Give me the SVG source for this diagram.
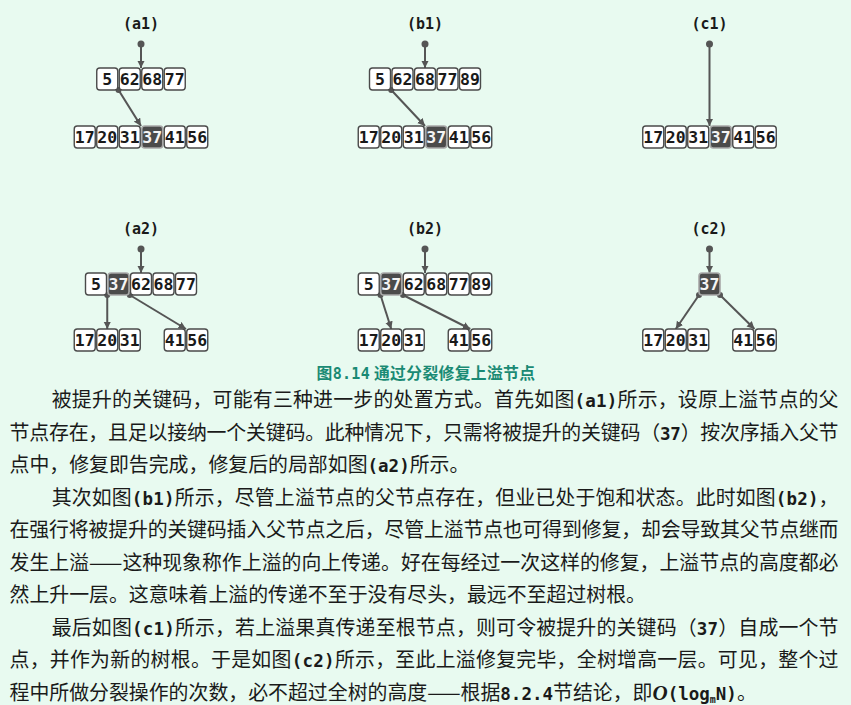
<svg xmlns="http://www.w3.org/2000/svg" width="851" height="705" viewBox="0 0 851 705">
<style>
.bg{fill:#e8faf0}
.cell{fill:#fff;stroke:#4a4a4a;stroke-width:1.4}
.hot{fill:#4b4b4b;stroke:#a8a8a8;stroke-width:1.6}
.num{font-family:"DejaVu Sans Mono",monospace;font-size:16.5px;font-weight:bold;fill:#1a1a1a;text-anchor:middle}
.hotnum{fill:#f4f4f4}
.lbl{font-family:"DejaVu Sans Mono",monospace;font-size:15px;font-weight:bold;fill:#1a1a1a;text-anchor:middle}
.edge{stroke:#555;stroke-width:2;fill:none;marker-end:url(#ah)}
.dot{fill:#555}
.cap{font-family:"Noto Sans CJK SC",sans-serif;font-size:15.8px;font-weight:bold;fill:#1a8a74}
.capm{font-family:"DejaVu Sans Mono",monospace;font-size:15px;font-weight:bold}
.body{font-family:"Noto Sans CJK SC",sans-serif;font-size:19.9px;fill:#1a1a1a}
.m{font-family:"DejaVu Sans Mono","Noto Sans CJK SC",monospace;font-weight:bold;font-size:17.5px}
.it{font-family:"Liberation Serif",serif;font-style:italic;font-weight:bold;font-size:21px}
.sub{font-family:"DejaVu Sans Mono",monospace;font-weight:bold;font-size:10px}
</style>
<defs>
<marker id="ah" markerUnits="userSpaceOnUse" markerWidth="8" markerHeight="8" refX="7.5" refY="3.75" orient="auto">
<path d="M0,0 L7.5,3.75 L0,7.5 z" fill="#555"/>
</marker>
</defs>
<rect class="bg" x="0" y="0" width="851" height="705"/>

<g id="labels">
<text class="lbl" x="141" y="28.5">(a1)</text>
<text class="lbl" x="425" y="28.5">(b1)</text>
<text class="lbl" x="709.5" y="28.5">(c1)</text>
<text class="lbl" x="141" y="233.5">(a2)</text>
<text class="lbl" x="425" y="233.5">(b2)</text>
<text class="lbl" x="709.5" y="233.5">(c2)</text>
</g>

<g id="connectors">
<line class="edge" x1="141" y1="44" x2="141" y2="68"/>
<line class="edge" x1="118.5" y1="90" x2="141" y2="126"/>
<line class="edge" x1="425" y1="44" x2="425" y2="68"/>
<line class="edge" x1="391.25" y1="90" x2="425" y2="126"/>
<line class="edge" x1="709.5" y1="44" x2="709.5" y2="126"/>
<line class="edge" x1="141" y1="249" x2="141" y2="273"/>
<line class="edge" x1="107.25" y1="295" x2="107.25" y2="329"/>
<line class="edge" x1="129.75" y1="295" x2="186" y2="329"/>
<line class="edge" x1="425" y1="249" x2="425" y2="273"/>
<line class="edge" x1="380.5" y1="295" x2="391.25" y2="329"/>
<line class="edge" x1="403" y1="295" x2="470.25" y2="329"/>
<line class="edge" x1="709.5" y1="249" x2="709.5" y2="273"/>
<line class="edge" x1="699" y1="295" x2="675.75" y2="329"/>
<line class="edge" x1="720" y1="295" x2="754.5" y2="329"/>
<circle class="dot" cx="141" cy="44" r="3.5"/>
<circle class="dot" cx="425" cy="44" r="3.5"/>
<circle class="dot" cx="709.5" cy="44" r="3.5"/>
<circle class="dot" cx="141" cy="249" r="3.5"/>
<circle class="dot" cx="425" cy="249" r="3.5"/>
<circle class="dot" cx="709.5" cy="249" r="3.5"/>
<circle class="dot" cx="118.5" cy="90" r="3"/>
<circle class="dot" cx="391.25" cy="90" r="3"/>
<circle class="dot" cx="107.25" cy="295" r="3"/>
<circle class="dot" cx="129.75" cy="295" r="3"/>
<circle class="dot" cx="380.5" cy="295" r="3"/>
<circle class="dot" cx="403" cy="295" r="3"/>
<circle class="dot" cx="699" cy="295" r="3"/>
<circle class="dot" cx="720" cy="295" r="3"/>
</g>

<g id="a1-parent">
<rect class="cell" x="96.75" y="68" width="21" height="22" rx="3"/><text class="num" x="107.25" y="84.8">5</text>
<rect class="cell" x="119.25" y="68" width="21" height="22" rx="3"/><text class="num" x="129.75" y="84.8">62</text>
<rect class="cell" x="141.75" y="68" width="21" height="22" rx="3"/><text class="num" x="152.25" y="84.8">68</text>
<rect class="cell" x="164.25" y="68" width="21" height="22" rx="3"/><text class="num" x="174.75" y="84.8">77</text>
</g>
<g id="a1-child">
<rect class="cell" x="74.25" y="126" width="21" height="22" rx="3"/><text class="num" x="84.75" y="142.8">17</text>
<rect class="cell" x="96.75" y="126" width="21" height="22" rx="3"/><text class="num" x="107.25" y="142.8">20</text>
<rect class="cell" x="119.25" y="126" width="21" height="22" rx="3"/><text class="num" x="129.75" y="142.8">31</text>
<rect class="hot" x="141.75" y="126" width="21" height="22" rx="3"/><text class="num hotnum" x="152.25" y="142.8">37</text>
<rect class="cell" x="164.25" y="126" width="21" height="22" rx="3"/><text class="num" x="174.75" y="142.8">41</text>
<rect class="cell" x="186.75" y="126" width="21" height="22" rx="3"/><text class="num" x="197.25" y="142.8">56</text>
</g>

<g id="b1-parent">
<rect class="cell" x="369.5" y="68" width="21" height="22" rx="3"/><text class="num" x="380" y="84.8">5</text>
<rect class="cell" x="392" y="68" width="21" height="22" rx="3"/><text class="num" x="402.5" y="84.8">62</text>
<rect class="cell" x="414.5" y="68" width="21" height="22" rx="3"/><text class="num" x="425" y="84.8">68</text>
<rect class="cell" x="437" y="68" width="21" height="22" rx="3"/><text class="num" x="447.5" y="84.8">77</text>
<rect class="cell" x="459.5" y="68" width="21" height="22" rx="3"/><text class="num" x="470" y="84.8">89</text>
</g>
<g id="b1-child">
<rect class="cell" x="358.25" y="126" width="21" height="22" rx="3"/><text class="num" x="368.75" y="142.8">17</text>
<rect class="cell" x="380.75" y="126" width="21" height="22" rx="3"/><text class="num" x="391.25" y="142.8">20</text>
<rect class="cell" x="403.25" y="126" width="21" height="22" rx="3"/><text class="num" x="413.75" y="142.8">31</text>
<rect class="hot" x="425.75" y="126" width="21" height="22" rx="3"/><text class="num hotnum" x="436.25" y="142.8">37</text>
<rect class="cell" x="448.25" y="126" width="21" height="22" rx="3"/><text class="num" x="458.75" y="142.8">41</text>
<rect class="cell" x="470.75" y="126" width="21" height="22" rx="3"/><text class="num" x="481.25" y="142.8">56</text>
</g>

<g id="c1-child">
<rect class="cell" x="642.75" y="126" width="21" height="22" rx="3"/><text class="num" x="653.25" y="142.8">17</text>
<rect class="cell" x="665.25" y="126" width="21" height="22" rx="3"/><text class="num" x="675.75" y="142.8">20</text>
<rect class="cell" x="687.75" y="126" width="21" height="22" rx="3"/><text class="num" x="698.25" y="142.8">31</text>
<rect class="hot" x="710.25" y="126" width="21" height="22" rx="3"/><text class="num hotnum" x="720.75" y="142.8">37</text>
<rect class="cell" x="732.75" y="126" width="21" height="22" rx="3"/><text class="num" x="743.25" y="142.8">41</text>
<rect class="cell" x="755.25" y="126" width="21" height="22" rx="3"/><text class="num" x="765.75" y="142.8">56</text>
</g>

<g id="a2-parent">
<rect class="cell" x="85.5" y="273" width="21" height="22" rx="3"/><text class="num" x="96" y="289.8">5</text>
<rect class="hot" x="108" y="273" width="21" height="22" rx="3"/><text class="num hotnum" x="118.5" y="289.8">37</text>
<rect class="cell" x="130.5" y="273" width="21" height="22" rx="3"/><text class="num" x="141" y="289.8">62</text>
<rect class="cell" x="153" y="273" width="21" height="22" rx="3"/><text class="num" x="163.5" y="289.8">68</text>
<rect class="cell" x="175.5" y="273" width="21" height="22" rx="3"/><text class="num" x="186" y="289.8">77</text>
</g>
<g id="a2-left">
<rect class="cell" x="74.25" y="329" width="21" height="22" rx="3"/><text class="num" x="84.75" y="345.8">17</text>
<rect class="cell" x="96.75" y="329" width="21" height="22" rx="3"/><text class="num" x="107.25" y="345.8">20</text>
<rect class="cell" x="119.25" y="329" width="21" height="22" rx="3"/><text class="num" x="129.75" y="345.8">31</text>
</g>
<g id="a2-right">
<rect class="cell" x="164.25" y="329" width="21" height="22" rx="3"/><text class="num" x="174.75" y="345.8">41</text>
<rect class="cell" x="186.75" y="329" width="21" height="22" rx="3"/><text class="num" x="197.25" y="345.8">56</text>
</g>

<g id="b2-parent">
<rect class="cell" x="358.25" y="273" width="21" height="22" rx="3"/><text class="num" x="368.75" y="289.8">5</text>
<rect class="hot" x="380.75" y="273" width="21" height="22" rx="3"/><text class="num hotnum" x="391.25" y="289.8">37</text>
<rect class="cell" x="403.25" y="273" width="21" height="22" rx="3"/><text class="num" x="413.75" y="289.8">62</text>
<rect class="cell" x="425.75" y="273" width="21" height="22" rx="3"/><text class="num" x="436.25" y="289.8">68</text>
<rect class="cell" x="448.25" y="273" width="21" height="22" rx="3"/><text class="num" x="458.75" y="289.8">77</text>
<rect class="cell" x="470.75" y="273" width="21" height="22" rx="3"/><text class="num" x="481.25" y="289.8">89</text>
</g>
<g id="b2-left">
<rect class="cell" x="358.25" y="329" width="21" height="22" rx="3"/><text class="num" x="368.75" y="345.8">17</text>
<rect class="cell" x="380.75" y="329" width="21" height="22" rx="3"/><text class="num" x="391.25" y="345.8">20</text>
<rect class="cell" x="403.25" y="329" width="21" height="22" rx="3"/><text class="num" x="413.75" y="345.8">31</text>
</g>
<g id="b2-right">
<rect class="cell" x="448.25" y="329" width="21" height="22" rx="3"/><text class="num" x="458.75" y="345.8">41</text>
<rect class="cell" x="470.75" y="329" width="21" height="22" rx="3"/><text class="num" x="481.25" y="345.8">56</text>
</g>

<g id="c2-root">
<rect class="hot" x="699" y="273" width="21" height="22" rx="3"/><text class="num hotnum" x="709.5" y="289.8">37</text>
</g>
<g id="c2-left">
<rect class="cell" x="642.75" y="329" width="21" height="22" rx="3"/><text class="num" x="653.25" y="345.8">17</text>
<rect class="cell" x="665.25" y="329" width="21" height="22" rx="3"/><text class="num" x="675.75" y="345.8">20</text>
<rect class="cell" x="687.75" y="329" width="21" height="22" rx="3"/><text class="num" x="698.25" y="345.8">31</text>
</g>
<g id="c2-right">
<rect class="cell" x="732.75" y="329" width="21" height="22" rx="3"/><text class="num" x="743.25" y="345.8">41</text>
<rect class="cell" x="755.25" y="329" width="21" height="22" rx="3"/><text class="num" x="765.75" y="345.8">56</text>
</g>

<g id="caption">
<text class="cap" x="316.5" y="379" textLength="218.5" lengthAdjust="spacing">图<tspan class="capm">8.14</tspan> 通过分裂修复上溢节点</text>
</g>

<g id="body">
<text class="body" x="51.7" y="407" textLength="786.8" lengthAdjust="spacing">被提升的关键码，可能有三种进一步的处置方式。首先如图<tspan class="m">(a1)</tspan>所示，设原上溢节点的父</text>
<text class="body" x="9.5" y="439.5" textLength="829" lengthAdjust="spacing">节点存在，且足以接纳一个关键码。此种情况下，只需将被提升的关键码（<tspan class="m">37</tspan>）按次序插入父节</text>
<text class="body" x="9.5" y="472">点中，修复即告完成，修复后的局部如图<tspan class="m">(a2)</tspan>所示。</text>
<text class="body" x="51.7" y="504.5" textLength="786.8" lengthAdjust="spacing">其次如图<tspan class="m">(b1)</tspan>所示，尽管上溢节点的父节点存在，但业已处于饱和状态。此时如图<tspan class="m">(b2)</tspan>，</text>
<text class="body" x="9.5" y="537" textLength="829" lengthAdjust="spacing">在强行将被提升的关键码插入父节点之后，尽管上溢节点也可得到修复，却会导致其父节点继而</text>
<text class="body" x="9.5" y="569.5" textLength="829" lengthAdjust="spacing">发生上溢——这种现象称作上溢的向上传递。好在每经过一次这样的修复，上溢节点的高度都必</text>
<text class="body" x="9.5" y="602">然上升一层。这意味着上溢的传递不至于没有尽头，最远不至超过树根。</text>
<text class="body" x="51.7" y="634.5" textLength="786.8" lengthAdjust="spacing">最后如图<tspan class="m">(c1)</tspan>所示，若上溢果真传递至根节点，则可令被提升的关键码（<tspan class="m">37</tspan>）自成一个节</text>
<text class="body" x="9.5" y="667" textLength="829" lengthAdjust="spacing">点，并作为新的树根。于是如图<tspan class="m">(c2)</tspan>所示，至此上溢修复完毕，全树增高一层。可见，整个过</text>
<text class="body" x="9.5" y="699.5">程中所做分裂操作的次数，必不超过全树的高度——根据<tspan class="m">8.2.4</tspan>节结论，即<tspan class="it">O</tspan><tspan class="m">(log</tspan><tspan class="sub" dy="3">m</tspan><tspan class="m" dy="-3">N)</tspan>。</text>
</g>
</svg>
